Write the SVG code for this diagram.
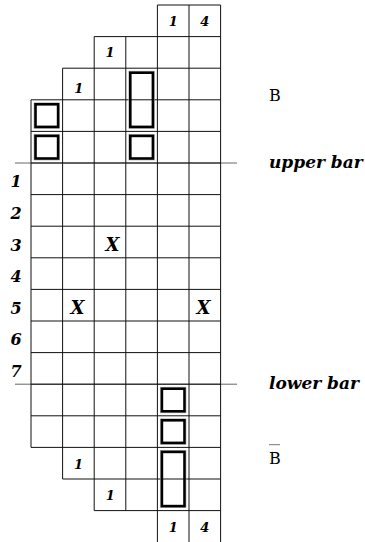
<svg xmlns="http://www.w3.org/2000/svg" width="365" height="542" viewBox="0 0 365 542">
<style>
.grid{fill:none;stroke:#111;stroke-width:1}
.bar{stroke:#666;stroke-width:1}
.box{fill:none;stroke:#000;stroke-width:2.6}
.halo{fill:none;stroke:#aaa;stroke-width:0.7}
.num{font-family:"DejaVu Serif",serif;font-weight:bold;font-style:italic;font-size:13px;text-anchor:middle;fill:#000}
.row{font-family:"DejaVu Serif",serif;font-weight:bold;font-style:italic;font-size:16px;text-anchor:middle;fill:#000}
.x{font-family:"DejaVu Serif",serif;font-weight:bold;font-style:italic;font-size:18px;text-anchor:middle;fill:#000}
.lbl{font-family:"DejaVu Serif",serif;font-weight:bold;font-style:italic;font-size:17px;fill:#000}
.b{font-family:"DejaVu Serif",serif;font-size:16px;fill:#000}
</style>
<rect width="365" height="542" fill="#fff"/>
<g id="connectors">
<line class="bar" x1="15" y1="163" x2="237" y2="163"/>
<line class="bar" x1="15" y1="384.2" x2="237" y2="384.2"/>
</g>
<g id="grid">
<path class="grid" d="M157.4 5H220.6 M94.2 36.6H220.6 M62.6 68.2H220.6 M31 99.8H220.6 M31 131.4H220.6 M31 163H220.6 M31 194.6H220.6 M31 226.2H220.6 M31 257.8H220.6 M31 289.4H220.6 M31 321H220.6 M31 352.6H220.6 M31 384.2H220.6 M31 415.8H220.6 M31 447.4H220.6 M62.6 479H220.6 M94.2 510.6H220.6 M31 99.8V447.4 M62.6 68.2V479 M94.2 36.6V510.6 M125.8 36.6V510.6 M157.4 5V542 M189 5V542 M220.6 5V542"/>
</g>
<g id="boxes">
<g id="box-top-a"><rect class="halo" x="34" y="102.8" width="25.6" height="25.6"/><rect class="box" x="35.5" y="104.3" width="22.6" height="22.6"/></g>
<g id="box-top-b"><rect class="halo" x="34" y="134.4" width="25.6" height="25.6"/><rect class="box" x="35.5" y="135.9" width="22.6" height="22.6"/></g>
<g id="box-top-c"><rect class="halo" x="128.8" y="71.2" width="25.6" height="57.2"/><rect class="box" x="130.3" y="72.7" width="22.6" height="54.2"/></g>
<g id="box-top-d"><rect class="halo" x="128.8" y="134.4" width="25.6" height="25.6"/><rect class="box" x="130.3" y="135.9" width="22.6" height="22.6"/></g>
<g id="box-bot-a"><rect class="halo" x="160.4" y="387.2" width="25.6" height="25.6"/><rect class="box" x="161.9" y="388.7" width="22.6" height="22.6"/></g>
<g id="box-bot-b"><rect class="halo" x="160.4" y="418.8" width="25.6" height="25.6"/><rect class="box" x="161.9" y="420.3" width="22.6" height="22.6"/></g>
<g id="box-bot-c"><rect class="halo" x="160.4" y="450.4" width="25.6" height="57.2"/><rect class="box" x="161.9" y="451.9" width="22.6" height="54.2"/></g>
</g>
<g id="clues">
<text class="num" x="173.2" y="26">1</text>
<text class="num" x="204.8" y="26">4</text>
<text class="num" x="110" y="57">1</text>
<text class="num" x="78.8" y="93">1</text>
<text class="num" x="78.5" y="469">1</text>
<text class="num" x="110.3" y="500">1</text>
<text class="num" x="173.2" y="531.7">1</text>
<text class="num" x="204.8" y="531.7">4</text>
</g>
<g id="row-labels">
<text class="row" x="16" y="187.3">1</text>
<text class="row" x="16" y="218.9">2</text>
<text class="row" x="16" y="250.5">3</text>
<text class="row" x="16" y="282.1">4</text>
<text class="row" x="16" y="313.7">5</text>
<text class="row" x="16" y="345.3">6</text>
<text class="row" x="16" y="376.9">7</text>
</g>
<g id="marks">
<text class="x" x="112.5" y="250.7">X</text>
<text class="x" x="77.5" y="314">X</text>
<text class="x" x="203.5" y="314">X</text>
</g>
<g id="label-B"><text class="b" x="269" y="101">B</text></g>
<g id="label-upper"><text class="lbl" x="269" y="168.3">upper bar</text></g>
<g id="label-lower"><text class="lbl" x="269" y="389.3">lower bar</text></g>
<g id="label-Bbar"><line x1="269" y1="444.7" x2="280" y2="444.7" stroke="#777" stroke-width="1"/><text class="b" x="269" y="464">B</text></g>
</svg>
